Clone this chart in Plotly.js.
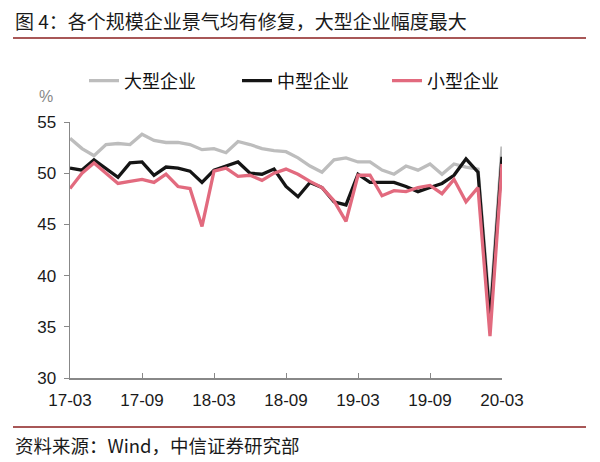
<!DOCTYPE html>
<html>
<head>
<meta charset="utf-8">
<script src="https://cdn.plot.ly/plotly-3.0.1.min.js"></script>
<style>html,body{margin:0;padding:0;background:#fff;}#chart{width:600px;height:462px;}</style>
</head>
<body>
<div id="chart"></div>
<script>
const months = ["17-03","17-04","17-05","17-06","17-07","17-08","17-09","17-10","17-11","17-12",
"18-01","18-02","18-03","18-04","18-05","18-06","18-07","18-08","18-09","18-10","18-11","18-12",
"19-01","19-02","19-03","19-04","19-05","19-06","19-07","19-08","19-09","19-10","19-11","19-12",
"20-01","20-02","20-03"];
const large = [53.4,52.4,51.7,52.8,52.9,52.8,53.8,53.2,53.0,53.0,
52.8,52.3,52.4,52.0,53.1,52.8,52.4,52.2,52.1,51.5,50.7,50.1,
51.3,51.5,51.1,51.1,50.3,49.9,50.7,50.3,50.9,49.9,50.9,50.6,
50.4,36.4,52.6];
const medium = [50.5,50.3,51.3,50.4,49.6,51.0,51.1,49.8,50.6,50.5,
50.2,49.1,50.3,50.7,51.1,50.0,49.9,50.4,48.7,47.7,49.1,48.6,
47.2,46.9,49.9,49.1,49.1,49.1,48.7,48.2,48.6,49.0,49.8,51.4,
50.1,35.5,51.6];
const small = [48.5,50.0,51.0,50.0,49.0,49.2,49.4,49.1,49.9,48.7,
48.5,44.8,50.2,50.5,49.7,49.8,49.3,50.0,50.4,49.9,49.2,48.6,
47.3,45.3,49.8,49.8,47.8,48.3,48.2,48.6,48.8,48.0,49.4,47.2,
48.6,34.1,50.9];
const seriesNames = ["大型企业","中型企业","小型企业"];
const tickLabels = ["17-03","17-09","18-03","18-09","19-03","19-09","20-03"];
const yTicks = [30,35,40,45,50,55];

const cjk = '"Noto Sans CJK SC", "Noto Sans", sans-serif';
const num = '"Liberation Sans", Arial, sans-serif';

const colors = ["#bdbdbd","#151515","#e26a7e"];
const legendIds = ["legend","legend2","legend3"];
const data = [large, medium, small].map((v,i)=>({
  x: months, y: v, type:'scatter', mode:'lines', name: seriesNames[i],
  legend: legendIds[i],
  line:{color:colors[i], width:3.3}
}));

const W=600, H=462;
const L=70, R=502, T=122, B=378;
const px = x => (x-L)/(R-L);
const py = y => (B-y)/(B-T);

const legendLeft = [84, 237, 387];
const mkLegend = xpix => ({orientation:'h', xref:'container', yref:'container', x:xpix/W, y:1-81/H,
  xanchor:'left', yanchor:'middle', font:{family:cjk, size:18, color:'#111'},
  bgcolor:'rgba(0,0,0,0)'});

const layout = {
  width:W, height:H,
  margin:{l:L, r:W-R, t:T, b:H-B, pad:0},
  paper_bgcolor:'#fff', plot_bgcolor:'#fff',
  showlegend:true,
  legend: mkLegend(legendLeft[0]),
  legend2: mkLegend(legendLeft[1]),
  legend3: mkLegend(legendLeft[2]),
  xaxis:{type:'category', range:[0,36], tickvals:tickLabels, ticktext:tickLabels,
    ticks:'inside', ticklen:5, tickcolor:'#888', showline:true, linecolor:'#888', linewidth:1.5,
    showgrid:false, zeroline:false, tickfont:{family:num, size:17, color:'#1a1a1a'}, ticklabelstandoff:6},
  yaxis:{range:[30,55], tickvals:yTicks, ticks:'outside', ticklen:5, tickcolor:'#888',
    showline:true, linecolor:'#888', linewidth:1.5, showgrid:false, zeroline:false,
    tickfont:{family:num, size:17, color:'#1a1a1a'}, ticklabelstandoff:4},
  annotations:[
    {text:'图 4：各个规模企业景气均有修复，大型企业幅度最大', xref:'paper', yref:'paper',
     x:px(13), y:py(20), xanchor:'left', yanchor:'middle', showarrow:false,
     font:{family:cjk, size:19, color:'#1a1a1a'}},
    {text:'资料来源：Wind，中信证券研究部', xref:'paper', yref:'paper',
     x:px(13), y:py(445), xanchor:'left', yanchor:'middle', showarrow:false,
     font:{family:cjk, size:18.5, color:'#1a1a1a'}},
    {text:'%', xref:'paper', yref:'paper', x:px(46), y:py(96), xanchor:'center', yanchor:'middle',
     showarrow:false, font:{family:num, size:16, color:'#888'}}
  ],
  shapes:[
    {type:'line', xref:'paper', yref:'paper', x0:px(13), x1:px(586), y0:py(38), y1:py(38),
     line:{color:'#8b1f1f', width:1.5}},
    {type:'line', xref:'paper', yref:'paper', x0:px(13), x1:px(586), y0:py(427), y1:py(427),
     line:{color:'#8b1f1f', width:1.5}}
  ]
};
Plotly.newPlot('chart', data, layout, {displayModeBar:false, staticPlot:true});
</script>
</body>
</html>
